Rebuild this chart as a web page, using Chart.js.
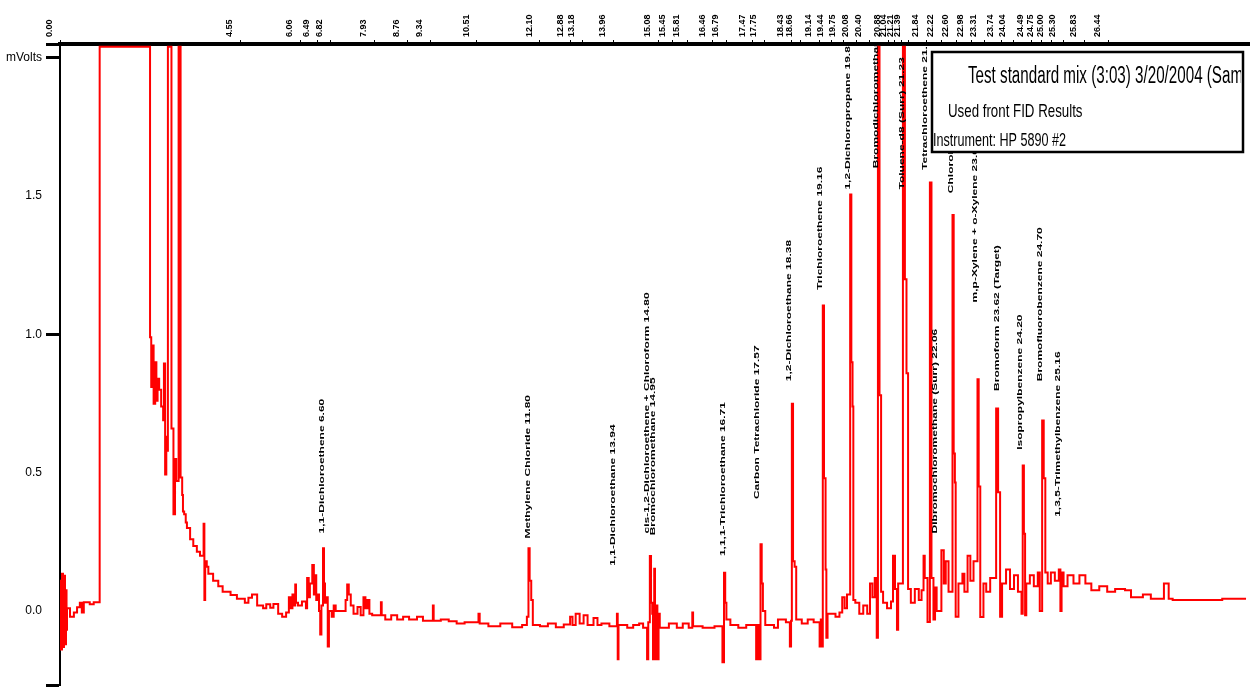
<!DOCTYPE html>
<html>
<head>
<meta charset="utf-8">
<script src="https://cdn.jsdelivr.net/npm/chart.js@4/dist/chart.umd.min.js"></script>
<style>
  body { margin: 0; background: #fff; }
  canvas { display: block; }
</style>
</head>
<body>
<canvas id="chromatogram" width="1250" height="697"></canvas>
<script>
// Retention times printed on the top axis (minutes)
var retentionTicks = [0, 4.55, 6.06, 6.49, 6.82, 7.93, 8.76, 9.34, 10.51, 12.10, 12.88, 13.18, 13.96,
    15.08, 15.45, 15.81, 16.46, 16.79, 17.47, 17.75, 18.43, 18.66, 19.14, 19.44, 19.75, 20.08,
    20.40, 20.88, 21.04, 21.21, 21.39, 21.84, 22.22, 22.60, 22.98, 23.31, 23.74, 24.04, 24.49,
    24.75, 25.00, 25.30, 25.83, 26.44];

// Left axis
var yTickValues = [0, 0.5, 1.0, 1.5, 2.0];
var yTickLabels = ["0.0", "0.5", "1.0", "1.5", "mVolts"];

// Peak names (drawn vertically over the peaks)
var peakTimes = [6.60, 11.80, 13.94, 14.80, 14.95, 16.71, 17.57, 18.38, 19.16, 19.86, 20.57,
    21.23, 21.80, 22.06, 22.46, 23.07, 23.62, 24.20, 24.70, 25.16];
var peakLevels = [0.27, 0.252, 0.153, 0.27, 0.263, 0.188, 0.394, 0.82, 1.15, 1.513, 1.59,
    1.513, 1.584, 0.27, 1.50, 1.105, 0.785, 0.572, 0.82, 0.33];
var peakNames = [
    "1,1-Dichloroethene 6.60",
    "Methylene Chloride 11.80",
    "1,1-Dichloroethane 13.94",
    "cis-1,2-Dichloroethene + Chloroform 14.80",
    "Bromochloromethane 14.95",
    "1,1,1-Trichloroethane 16.71",
    "Carbon Tetrachloride 17.57",
    "1,2-Dichloroethane 18.38",
    "Trichloroethene 19.16",
    "1,2-Dichloropropane 19.86",
    "Bromodichloromethane 20.57",
    "Toluene-d8 (Surr) 21.23",
    "Tetrachloroethene 21.80",
    "Dibromochloromethane (Surr) 22.06",
    "Chlorobenzene 22.46",
    "m,p-Xylene + o-Xylene 23.07",
    "Bromoform 23.62 (Target)",
    "Isopropylbenzene 24.20",
    "Bromofluorobenzene 24.70",
    "1,3,5-Trimethylbenzene 25.16"
];

// Detector trace [minutes, mVolts]
var trace = [
    [0.00, 0.11], [0.025, -0.139], [0.05, 0.135], [0.076, -0.13], [0.10, 0.128], [0.126, -0.12], [0.151, 0.075], [0.165, -0.067], [0.176, 0.01],
    [0.252, -0.02], [0.35, -0.005], [0.43, 0.014], [0.50, 0.03], [0.55, -0.005], [0.60, 0.032], [0.75, 0.025], [0.85, 0.032],
    [1.00, 2.04], [2.27, 0.99],
    [2.30, 0.81], [2.33, 0.96], [2.36, 0.75], [2.40, 0.90], [2.43, 0.76], [2.46, 0.84], [2.50, 0.80], [2.55, 0.74], [2.60, 0.69],
    [2.62, 0.895], [2.65, 0.494], [2.68, 0.63], [2.71, 0.58],
    [2.72, 2.04], [2.81, 0.66], [2.86, 0.35], [2.90, 0.55], [2.93, 0.47],
    [2.99, 2.04], [3.04, 0.483],
    [3.08, 0.42], [3.10, 0.36], [3.13, 0.35], [3.17, 0.32], [3.20, 0.30], [3.28, 0.26], [3.36, 0.235], [3.45, 0.215], [3.53, 0.20],
    [3.62, 0.316], [3.64, 0.04], [3.66, 0.18], [3.70, 0.16], [3.74, 0.135], [3.86, 0.11], [3.99, 0.09], [4.10, 0.07], [4.30, 0.058],
    [4.46, 0.045], [4.66, 0.03], [4.75, 0.048], [4.84, 0.06], [4.97, 0.02],
    [5.12, 0.01], [5.20, 0.025], [5.30, 0.012], [5.38, 0.026], [5.50, -0.01], [5.60, -0.02], [5.70, -0.005],
    [5.77, 0.05], [5.82, 0.01], [5.86, 0.06], [5.90, 0.02], [5.93, 0.096], [5.95, 0.03], [6.00, 0.02], [6.10, 0.035], [6.20, 0.01],
    [6.23, 0.12], [6.27, 0.05], [6.30, 0.10], [6.36, 0.167], [6.40, 0.06], [6.43, 0.13], [6.46, 0.04], [6.49, 0.06],
    [6.53, 0.0], [6.56, -0.085], [6.59, 0.02], [6.63, 0.227], [6.655, 0.10], [6.68, 0.03], [6.70, 0.05], [6.75, -0.128], [6.78, 0.0],
    [6.85, -0.02], [6.90, 0.02], [6.95, 0.0], [7.00, 0.0], [7.20, 0.04], [7.24, 0.096], [7.28, 0.06], [7.33, 0.02],
    [7.40, -0.01], [7.50, 0.015], [7.58, -0.015], [7.65, 0.05], [7.70, 0.01], [7.75, 0.04], [7.80, -0.01], [7.87, -0.015],
    [8.09, 0.032], [8.11, -0.015], [8.20, -0.03], [8.35, -0.015], [8.50, -0.03], [8.65, -0.02], [8.80, -0.03], [9.00, -0.02], [9.15, -0.035],
    [9.40, 0.02], [9.42, -0.035], [9.60, -0.03], [9.80, -0.037], [10.00, -0.045], [10.20, -0.04], [10.55, -0.01], [10.58, -0.045],
    [10.80, -0.055], [11.10, -0.045], [11.40, -0.058], [11.65, -0.05],
    [11.77, -0.02], [11.81, 0.227], [11.84, 0.11], [11.88, 0.04], [11.92, -0.05],
    [12.10, -0.055], [12.30, -0.045], [12.50, -0.058], [12.70, -0.048],
    [12.86, -0.02], [12.92, -0.05], [13.00, -0.01], [13.10, -0.045], [13.20, -0.015], [13.30, -0.05], [13.45, -0.025], [13.55, -0.05],
    [13.65, -0.045], [13.85, -0.055], [14.04, -0.01], [14.06, -0.174], [14.08, -0.05],
    [14.30, -0.06], [14.45, -0.05], [14.60, -0.045], [14.70, -0.06], [14.80, -0.174], [14.83, -0.04],
    [14.87, 0.199], [14.90, 0.03], [14.93, -0.01], [14.95, -0.174], [14.98, 0.153], [15.00, -0.174], [15.03, 0.02], [15.06, -0.174], [15.09, -0.01],
    [15.12, -0.06], [15.35, -0.045], [15.55, -0.06], [15.70, -0.045], [15.85, -0.06], [15.94, -0.005], [15.96, -0.055],
    [16.20, -0.06], [16.50, -0.055], [16.70, -0.185], [16.74, 0.139], [16.77, 0.03], [16.80, -0.03],
    [16.90, -0.05], [17.10, -0.06], [17.30, -0.05], [17.55, -0.174], [17.60, -0.05], [17.63, -0.174],
    [17.66, 0.242], [17.69, 0.10], [17.72, 0.0], [17.78, -0.05], [18.00, -0.06], [18.10, -0.03], [18.30, -0.04],
    [18.40, -0.128], [18.43, -0.035], [18.45, 0.75], [18.48, 0.18], [18.52, 0.16],
    [18.56, -0.03], [18.70, -0.045], [18.85, -0.03], [19.00, -0.04],
    [19.15, -0.128], [19.18, -0.03], [19.20, -0.128], [19.23, 1.105], [19.26, 0.48], [19.30, 0.15], [19.32, -0.096], [19.35, -0.01],
    [19.40, -0.01], [19.55, -0.02], [19.65, -0.005], [19.72, 0.05], [19.78, 0.01], [19.84, 0.06],
    [19.92, 1.506], [19.95, 0.90], [19.98, 0.74], [20.00, 0.04],
    [20.05, 0.03], [20.15, -0.01], [20.25, 0.02], [20.35, -0.01], [20.42, 0.10], [20.48, 0.05], [20.54, 0.12], [20.59, -0.096],
    [20.62, 2.04], [20.66, 0.78], [20.70, 0.07],
    [20.75, 0.03], [20.85, 0.01], [20.95, 0.035], [21.00, 0.20], [21.05, 0.08], [21.10, -0.067], [21.13, 0.10],
    [21.25, 2.04], [21.30, 1.20], [21.34, 0.86], [21.38, 0.08],
    [21.45, 0.03], [21.55, 0.08], [21.65, 0.04], [21.72, 0.075], [21.77, 0.20], [21.80, 0.12], [21.87, -0.039],
    [21.93, 1.549], [21.97, 0.12], [22.02, -0.03], [22.06, 0.085], [22.10, 0.0],
    [22.22, 0.22], [22.28, 0.10], [22.33, 0.18], [22.40, 0.07],
    [22.50, 1.432], [22.53, 0.57], [22.56, 0.465], [22.58, -0.02],
    [22.65, 0.10], [22.75, 0.135], [22.80, 0.07], [22.88, 0.20], [22.95, 0.11], [23.03, 0.18],
    [23.13, 0.838], [23.16, 0.45], [23.20, -0.021], [23.28, 0.10], [23.35, 0.07], [23.45, 0.12],
    [23.60, 0.732], [23.65, 0.43], [23.70, -0.02],
    [23.75, 0.10], [23.85, 0.15], [23.95, 0.08], [24.05, 0.13], [24.15, 0.07],
    [24.24, -0.01], [24.27, 0.526], [24.30, 0.28], [24.33, -0.015], [24.36, 0.10],
    [24.45, 0.13], [24.55, 0.09], [24.65, 0.14], [24.70, 0.0],
    [24.76, 0.689], [24.80, 0.48], [24.84, 0.14],
    [24.90, 0.10], [24.98, 0.14], [25.08, 0.11], [25.18, 0.15], [25.22, 0.0], [25.25, 0.14], [25.30, 0.09],
    [25.40, 0.13], [25.55, 0.10], [25.70, 0.13], [25.85, 0.10],
    [26.00, 0.075], [26.20, 0.09], [26.40, 0.07], [26.60, 0.08], [26.85, 0.075],
    [27.00, 0.05], [27.30, 0.06], [27.50, 0.045], [27.83, 0.10], [27.95, 0.045],
    [28.05, 0.04], [28.60, 0.04], [28.80, 0.04], [29.30, 0.045], [29.90, 0.045]
];

// Header box text
var headerLines = [
    "Test standard mix (3:03) 3/20/2004 (Sample)",
    "Used front FID Results",
    "Instrument: HP 5890 #2"
];

var sans = '"Liberation Sans", Arial, sans-serif';

// vertical peak names
var peakLabels = {
    id: "peakLabels",
    afterDatasetsDraw: function (chart) {
        var ctx = chart.ctx, a = chart.chartArea, x = chart.scales.x, y = chart.scales.y;
        ctx.save();
        ctx.beginPath();
        ctx.rect(a.left, a.top + 2, a.right - a.left, a.bottom - a.top - 2);
        ctx.clip();
        ctx.fillStyle = "#000";
        ctx.font = "bold 12px " + sans;
        ctx.textBaseline = "middle";
        ctx.textAlign = "left";
        for (var i = 0; i < peakTimes.length; i++) {
            ctx.save();
            ctx.translate(x.getPixelForValue(peakTimes[i]), y.getPixelForValue(peakLevels[i]) - 3);
            ctx.rotate(-Math.PI / 2);
            ctx.scale(1, 0.6);
            ctx.fillText(peakNames[i], 0, 0);
            ctx.restore();
        }
        ctx.restore();
    }
};

// squeezed text, like the narrow print of the original
function narrowText(ctx, text, px, py, size, squeeze) {
    ctx.save();
    ctx.translate(px, py);
    ctx.scale(squeeze, 1);
    ctx.font = size + "px " + sans;
    ctx.fillText(text, 0, 0);
    ctx.restore();
}

// header box top right
var headerBox = {
    id: "headerBox",
    afterDraw: function (chart) {
        var ctx = chart.ctx;
        var bx = 932, by = 52, bw = 311, bh = 100;
        ctx.save();
        ctx.fillStyle = "#fff";
        ctx.fillRect(bx, by, bw, bh);
        ctx.lineWidth = 2.5;
        ctx.strokeStyle = "#000";
        ctx.strokeRect(bx, by, bw, bh);
        ctx.beginPath();
        ctx.rect(bx, by, bw - 2, bh);
        ctx.clip();
        ctx.fillStyle = "#000";
        ctx.textBaseline = "middle";
        narrowText(ctx, headerLines[0], 968, 77, 23, 0.66);
        narrowText(ctx, headerLines[1], 948, 112, 19, 0.7);
        narrowText(ctx, headerLines[2], 933, 141, 18, 0.7);
        ctx.restore();
    }
};

var chartEl = document.querySelector("#chromatogram");
var chromatogram = new Chart(chartEl, {
    type: "line",
    data: {
        datasets: [{
            data: trace.map(function (p) { return { x: p[0], y: p[1] }; }),
            borderColor: "#ff0000",
            borderWidth: 2,
            pointRadius: 0,
            fill: false,
            stepped: true,
            tension: 0
        }]
    },
    options: {
        responsive: false,
        animation: false,
        devicePixelRatio: 1,
        layout: { padding: 0 },
        plugins: {
            legend: { display: false },
            title: { display: false },
            tooltip: { enabled: false }
        },
        scales: {
            x: {
                type: "linear",
                position: "top",
                min: 0,
                max: 30,
                afterBuildTicks: function (scale) {
                    scale.ticks = retentionTicks.map(function (v) { return { value: v }; });
                },
                afterFit: function (scale) { scale.height = 44; },
                ticks: {
                    autoSkip: false,
                    minRotation: 90,
                    maxRotation: 90,
                    padding: 3,
                    color: "#000",
                    font: { size: 9, weight: "bold", family: sans },
                    callback: function (v) { return v.toFixed(2); }
                },
                grid: { drawOnChartArea: false, tickLength: 4, color: "#000", tickWidth: 1 },
                border: { color: "#000", width: 4 }
            },
            y: {
                type: "linear",
                min: -0.27,
                max: 2.05,
                afterBuildTicks: function (scale) {
                    var t = [{ value: scale.min }];
                    yTickValues.forEach(function (v) { t.push({ value: v }); });
                    t.push({ value: scale.max });
                    scale.ticks = t;
                },
                afterFit: function (scale) { scale.width = 60; },
                ticks: {
                    padding: 4,
                    color: "#000",
                    font: { size: 12, family: sans },
                    callback: function (v) {
                        var i = yTickValues.indexOf(v);
                        return i < 0 ? "" : yTickLabels[i];
                    }
                },
                grid: {
                    drawOnChartArea: false,
                    tickLength: 14,
                    tickWidth: 3,
                    tickColor: function (c) {
                        var v = c.tick ? c.tick.value : null;
                        return (v === 1 || v === 2 || v === -0.27 || v === 2.05) ? "#000" : "rgba(0,0,0,0)";
                    }
                },
                border: { color: "#000", width: 2 }
            }
        }
    },
    plugins: [peakLabels, headerBox]
});
</script>
</body>
</html>
